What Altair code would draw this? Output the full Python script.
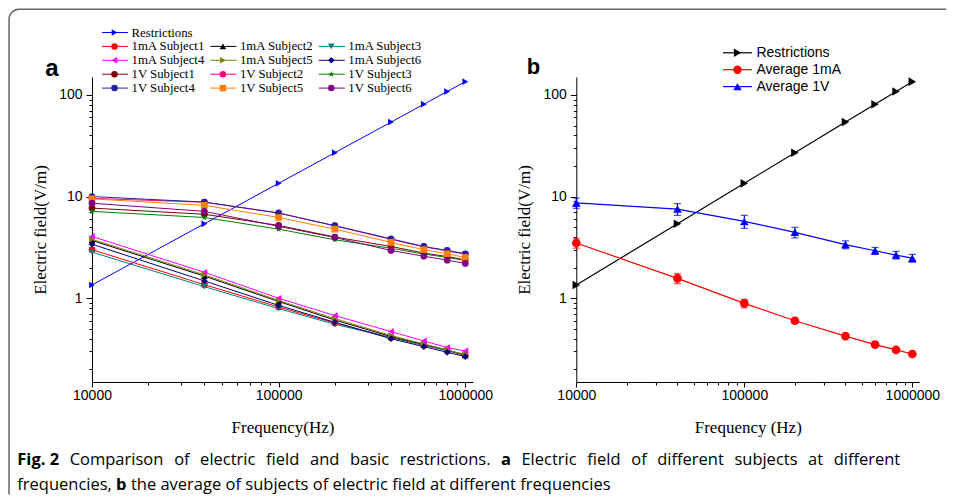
import math
import altair as alt
import pandas as pd

# ---------------- data ----------------
freq = [10000, 40000, 100000, 200000, 400000, 600000, 800000, 1000000]
restrictions = [1.35, 5.4, 13.5, 27, 54, 81, 108, 135]

ma_s1 = [3.0, 1.36, 0.82, 0.57, 0.41, 0.345, 0.305, 0.275]
ma_s2 = [3.7, 1.65, 0.93, 0.61, 0.42, 0.35, 0.31, 0.275]
ma_s3 = [2.84, 1.30, 0.79, 0.555, 0.41, 0.345, 0.305, 0.28]
ma_s4 = [4.05, 1.80, 1.0, 0.675, 0.47, 0.38, 0.327, 0.303]
ma_s5 = [3.8, 1.70, 0.95, 0.63, 0.43, 0.355, 0.31, 0.28]
ma_s6 = [3.4, 1.48, 0.85, 0.58, 0.40, 0.334, 0.294, 0.267]
v_s1 = [7.7, 6.7, 5.2, 4.0, 3.23, 2.78, 2.57, 2.39]
v_s2 = [9.6, 8.8, 6.9, 5.15, 3.8, 3.2, 2.92, 2.72]
v_s3 = [7.15, 6.23, 4.78, 3.76, 3.1, 2.72, 2.52, 2.35]
v_s4 = [10.0, 8.83, 6.88, 5.17, 3.84, 3.23, 2.95, 2.74]
v_s5 = [9.5, 8.2, 6.23, 4.78, 3.54, 3.0, 2.74, 2.52]
v_s6 = [8.6, 7.15, 5.1, 3.96, 2.95, 2.59, 2.37, 2.2]

avg_1ma = [3.49, 1.57, 0.89, 0.60, 0.424, 0.35, 0.31, 0.283]
sd_1ma = [0.38, 0.18, 0.085, 0.03, 0.02, 0.015, 0.012, 0.01]
avg_1v = [8.66, 7.53, 5.7, 4.45, 3.37, 2.93, 2.66, 2.48]
sd_1v = [1.0, 1.0, 0.83, 0.53, 0.3, 0.23, 0.23, 0.22]

names_a = ["Restrictions",
           "1mA Subject1", "1mA Subject2", "1mA Subject3",
           "1mA Subject4", "1mA Subject5", "1mA Subject6",
           "1V Subject1", "1V Subject2", "1V Subject3",
           "1V Subject4", "1V Subject5", "1V Subject6"]
values_a = [restrictions, ma_s1, ma_s2, ma_s3, ma_s4, ma_s5, ma_s6,
            v_s1, v_s2, v_s3, v_s4, v_s5, v_s6]

names_b = ["Restrictions", "Average 1mA", "Average 1V"]
values_b = [restrictions, avg_1ma, avg_1v]
errors_b = [None, sd_1ma, sd_1v]

caption_line1 = [("Fig. 2", "bold"), ("Comparison", "normal"), ("of", "normal"),
                 ("electric", "normal"), ("field", "normal"), ("and", "normal"),
                 ("basic", "normal"), ("restrictions.", "normal"), ("a", "bold"),
                 ("Electric", "normal"), ("field", "normal"), ("of", "normal"),
                 ("different", "normal"), ("subjects", "normal"), ("at", "normal"),
                 ("different", "normal")]
caption_line2 = [("frequencies,", "normal"), ("b", "bold"), ("the", "normal"),
                 ("average", "normal"), ("of", "normal"), ("subjects", "normal"),
                 ("of", "normal"), ("electric", "normal"), ("field", "normal"),
                 ("at", "normal"), ("different", "normal"), ("frequencies", "normal")]

# ---------------- styles ----------------
STAR = ("M0,-1L0.2245,-0.309L0.951,-0.309L0.363,0.118L0.588,0.809L0,0.382"
        "L-0.588,0.809L-0.363,0.118L-0.951,-0.309L-0.2245,-0.309Z")
colors_a = ["#0000FF", "#FF0000", "#000000", "#008080", "#FF00FF", "#808000",
            "#000080", "#800000", "#FF0080", "#008000", "#2020A0", "#FF8000", "#800080"]
shapes_a = ["triangle-right", "circle", "triangle-up", "triangle-down", "triangle-left",
            "triangle-right", "diamond", "circle", "circle", STAR, "circle", "square", "circle"]
colors_b = ["#000000", "#FF0000", "#0000FF"]
shapes_b = ["triangle-right", "circle", "triangle-up"]

SERIF = "Liberation Serif"
SANS = "Liberation Sans"
CAP_FONT = "Open Sans"
CS = 16.5

# layout (page pixel coordinates -> view coordinates)
OX, OY = 91.7, 76.5
WA = 381.0
BX0, BX1 = 576 - OX, 919 - OX
H = 305


def px(x):
    return x - OX


def py(y):
    return y - OY


xticks = [m * 10 ** e for e in (4, 5) for m in range(1, 10)] + [1000000]
yticks = [round(m * 10.0 ** e, 4) for e in (-1, 0, 1) for m in range(1, 10)
          if m * 10.0 ** e >= 0.15] + [100]


def x_axis(title):
    test = "indexof([10000,100000,1000000], datum.value) >= 0"
    return alt.Axis(title=title, orient="bottom", values=xticks,
                    labelExpr=f"{test} ? '' + datum.value : ''",
                    tickSize={"condition": {"test": test, "value": 5}, "value": 3},
                    labelOverlap=False, labelFlush=False, labelPadding=2,
                    titlePadding=17, grid=False)


def y_axis(title, offset=0):
    test = "indexof([1,10,100], datum.value) >= 0"
    return alt.Axis(title=title, orient="left", offset=offset, values=yticks,
                    labelExpr=f"{test} ? '' + datum.value : ''",
                    tickSize={"condition": {"test": test, "value": 6}, "value": 3},
                    labelOverlap=False, labelFlush=False, labelPadding=4,
                    titlePadding=9, grid=False)


# ---------------- panel a ----------------
rows = []
for k, (n, vals) in enumerate(zip(names_a, values_a)):
    for f, v in zip(freq, vals):
        rows.append({"series": n, "k": k, "freq": f, "E": v,
                     "col": colors_a[k], "shp": shapes_a[k]})
df_a = pd.DataFrame(rows)

xa = alt.X("freq:Q", scale=alt.Scale(type="log", domain=[10000, 1100000],
                                     range=[0, WA], nice=False),
           axis=x_axis("Frequency(Hz)"))
ya = alt.Y("E:Q", scale=alt.Scale(type="log", domain=[0.15, 150], nice=False),
           axis=y_axis("Electric field(V/m)"))

lines_a = alt.Chart(df_a).mark_line(strokeWidth=1).encode(
    x=xa, y=ya, color=alt.Color("col:N", scale=None), detail="series:N")
pts_a = alt.Chart(df_a).mark_point(filled=True, size=45, opacity=1).encode(
    x=xa, y=ya, color=alt.Color("col:N", scale=None),
    shape=alt.Shape("shp:N", scale=None))
panel_a = alt.layer(lines_a, pts_a)

# ---------------- panel b ----------------
rows = []
for k, (n, vals, errs) in enumerate(zip(names_b, values_b, errors_b)):
    for i, (f, v) in enumerate(zip(freq, vals)):
        e = errs[i] if errs is not None else None
        rows.append({"series": n, "k": k, "freq": f, "E": v,
                     "lo": v - e if e is not None else None,
                     "hi": v + e if e is not None else None,
                     "col": colors_b[k], "shp": shapes_b[k]})
df_b = pd.DataFrame(rows)
df_b_err = df_b.dropna(subset=["lo"])

xb = alt.X("freq:Q", scale=alt.Scale(type="log", domain=[10000, 1100000],
                                     range=[BX0, BX1], nice=False),
           axis=x_axis("Frequency (Hz)"))


def yb(field):
    return alt.Y(f"{field}:Q",
                 scale=alt.Scale(type="log", domain=[0.15, 150], nice=False),
                 axis=y_axis("Electric field(V/m)", offset=-BX0))


err_rule = alt.Chart(df_b_err).mark_rule(strokeWidth=1.2).encode(
    x=xb, y=yb("lo"), y2="hi:Q", color=alt.Color("col:N", scale=None))
cap_lo = alt.Chart(df_b_err).mark_tick(orient="horizontal", size=7, thickness=1.2).encode(
    x=xb, y=yb("lo"), color=alt.Color("col:N", scale=None))
cap_hi = alt.Chart(df_b_err).mark_tick(orient="horizontal", size=7, thickness=1.2).encode(
    x=xb, y=yb("hi"), color=alt.Color("col:N", scale=None))
lines_b = alt.Chart(df_b).mark_line(strokeWidth=1.2).encode(
    x=xb, y=yb("E"), color=alt.Color("col:N", scale=None), detail="series:N")
pts_b = alt.Chart(df_b).mark_point(filled=True, size=75, opacity=1).encode(
    x=xb, y=yb("E"), color=alt.Color("col:N", scale=None),
    shape=alt.Shape("shp:N", scale=None))
panel_b = alt.layer(lines_b, err_rule, cap_lo, cap_hi, pts_b)

# ---------------- legends ----------------
leg_a = pd.DataFrame({"name": names_a, "col": colors_a, "shp": shapes_a,
                      "k": list(range(len(names_a)))})
leg_a_base = alt.Chart(leg_a).transform_calculate(
    r="datum.k == 0 ? 0 : floor((datum.k - 1) / 3) + 1",
    c="datum.k == 0 ? 0 : (datum.k - 1) % 3",
).transform_calculate(
    lx=f"{px(101.7)} + datum.c * 108.4",
    ly=f"{py(32)} + datum.r * 13.9",
).transform_calculate(
    lx2="datum.lx + 26", mx="datum.lx + 12.5", tx="datum.lx + 29.5")

NX = dict(scale=None, axis=None)
leg_a_line = leg_a_base.mark_rule(strokeWidth=1).encode(
    x=alt.X("lx:Q", **NX), x2="lx2:Q", y=alt.Y("ly:Q", **NX),
    color=alt.Color("col:N", scale=None))
leg_a_pt = leg_a_base.mark_point(filled=True, size=42, opacity=1).encode(
    x=alt.X("mx:Q", **NX), y=alt.Y("ly:Q", **NX),
    color=alt.Color("col:N", scale=None), shape=alt.Shape("shp:N", scale=None))
leg_a_txt = leg_a_base.mark_text(align="left", baseline="middle", font=SERIF,
                                 fontSize=12.8, color="black").encode(
    x=alt.X("tx:Q", **NX), y=alt.Y("ly:Q", **NX), text="name:N")

leg_b = pd.DataFrame({"name": names_b, "col": colors_b, "shp": shapes_b,
                      "k": list(range(len(names_b)))})
leg_b_base = alt.Chart(leg_b).transform_calculate(
    lx=f"{px(722.7)}", ly=f"{py(52.3)} + datum.k * 16.9",
).transform_calculate(lx2="datum.lx + 29", mx="datum.lx + 14.5", tx="datum.lx + 33.5")
leg_b_line = leg_b_base.mark_rule(strokeWidth=1.2).encode(
    x=alt.X("lx:Q", **NX), x2="lx2:Q", y=alt.Y("ly:Q", **NX),
    color=alt.Color("col:N", scale=None))
leg_b_pt = leg_b_base.mark_point(filled=True, size=70, opacity=1).encode(
    x=alt.X("mx:Q", **NX), y=alt.Y("ly:Q", **NX),
    color=alt.Color("col:N", scale=None), shape=alt.Shape("shp:N", scale=None))
leg_b_txt = leg_b_base.mark_text(align="left", baseline="middle", font=SANS,
                                 fontSize=14, color="black").encode(
    x=alt.X("tx:Q", **NX), y=alt.Y("ly:Q", **NX), text="name:N")

# ---------------- decorations: panel letters, frame, caption ----------------
one = pd.DataFrame({"z": [0]})


def label(txt, x, y, size, weight="normal", font=SANS):
    return alt.Chart(one).mark_text(text=txt, align="left", baseline="alphabetic",
                                    font=font, fontSize=size, fontWeight=weight,
                                    color="black").encode(
        x=alt.value(px(x)), y=alt.value(py(y)))


letter_a = label("a", 45, 75, 24, "bold")
letter_b = label("b", 526.5, 73.5, 22, "bold")

FRAME = "#666666"
fx, fy, rad = px(8.75), py(8.75), 10
frame_top = alt.Chart(one).mark_rule(stroke=FRAME, strokeWidth=1.5).encode(
    x=alt.value(fx + rad), x2=alt.value(px(946)), y=alt.value(fy))
frame_left = alt.Chart(one).mark_rule(stroke=FRAME, strokeWidth=1.5).encode(
    x=alt.value(fx), y=alt.value(fy + rad), y2=alt.value(py(494)))
frame_corner = alt.Chart(one).mark_arc(theta=3 * math.pi / 2, theta2=2 * math.pi,
                                       radius=rad + 0.75, radius2=rad - 0.75,
                                       color=FRAME).encode(
    x=alt.value(fx + rad), y=alt.value(fy + rad))

# approximate Open Sans advance widths (em) to lay out the justified caption
W_REG = {" ": .26, "a": .556, "b": .613, "c": .48, "d": .613, "e": .561, "f": .336,
         "g": .547, "h": .613, "i": .258, "j": .258, "k": .532, "l": .258, "m": .93,
         "n": .613, "o": .602, "p": .613, "q": .613, "r": .409, "s": .476, "t": .353,
         "u": .613, "v": .5, "w": .778, "x": .518, "y": .5, "z": .465, "C": .633,
         "E": .556, "F": .512, ",": .245, ".": .245, "2": .571}
W_BOLD = {" ": .26, "F": .575, "i": .285, "g": .562, ".": .285, "2": .571,
          "a": .604, "b": .639}


def tw(s, weight):
    tab = W_BOLD if weight == "bold" else W_REG
    return sum(tab.get(ch, .55) for ch in s) * CS


def layout(tokens, x0, y, x1=None):
    widths = [tw(t, w) for t, w in tokens]
    if x1 is None:
        gap = W_REG[" "] * CS
    else:
        gap = (x1 - x0 - sum(widths)) / (len(tokens) - 1)
    out, x = [], x0
    for (t, w), wd in zip(tokens, widths):
        out.append({"t": t, "w": w, "x": px(x), "y": py(y)})
        x += wd + gap
    return out


cap_df = pd.DataFrame(layout(caption_line1, 17, 465, 900) +
                      layout(caption_line2, 17, 489.5))
cap_base = alt.Chart(cap_df)
cap_reg = cap_base.transform_filter("datum.w == 'normal'").mark_text(
    align="left", baseline="alphabetic", font=CAP_FONT, fontSize=CS, color="black"
).encode(x=alt.X("x:Q", **NX), y=alt.Y("y:Q", **NX), text="t:N")
cap_bold = cap_base.transform_filter("datum.w == 'bold'").mark_text(
    align="left", baseline="alphabetic", font=CAP_FONT, fontSize=CS,
    fontWeight="bold", color="black"
).encode(x=alt.X("x:Q", **NX), y=alt.Y("y:Q", **NX), text="t:N")

chart = alt.layer(
    panel_a, panel_b,
    leg_a_line, leg_a_pt, leg_a_txt,
    leg_b_line, leg_b_pt, leg_b_txt,
    letter_a, letter_b, frame_top, frame_left, frame_corner, cap_reg, cap_bold,
).resolve_scale(
    x="independent", y="independent"
).properties(
    width=BX1, height=H, padding=0
).configure_view(
    stroke=None
).configure_axis(
    domainColor="black", tickColor="black", labelColor="black", titleColor="black",
    labelFont=SANS, labelFontSize=14, titleFont=SERIF, titleFontSize=17,
    titleFontWeight="normal", domainWidth=1, tickWidth=1,
)

chart.save("out.html", embed_options={"renderer": "svg", "actions": False})
